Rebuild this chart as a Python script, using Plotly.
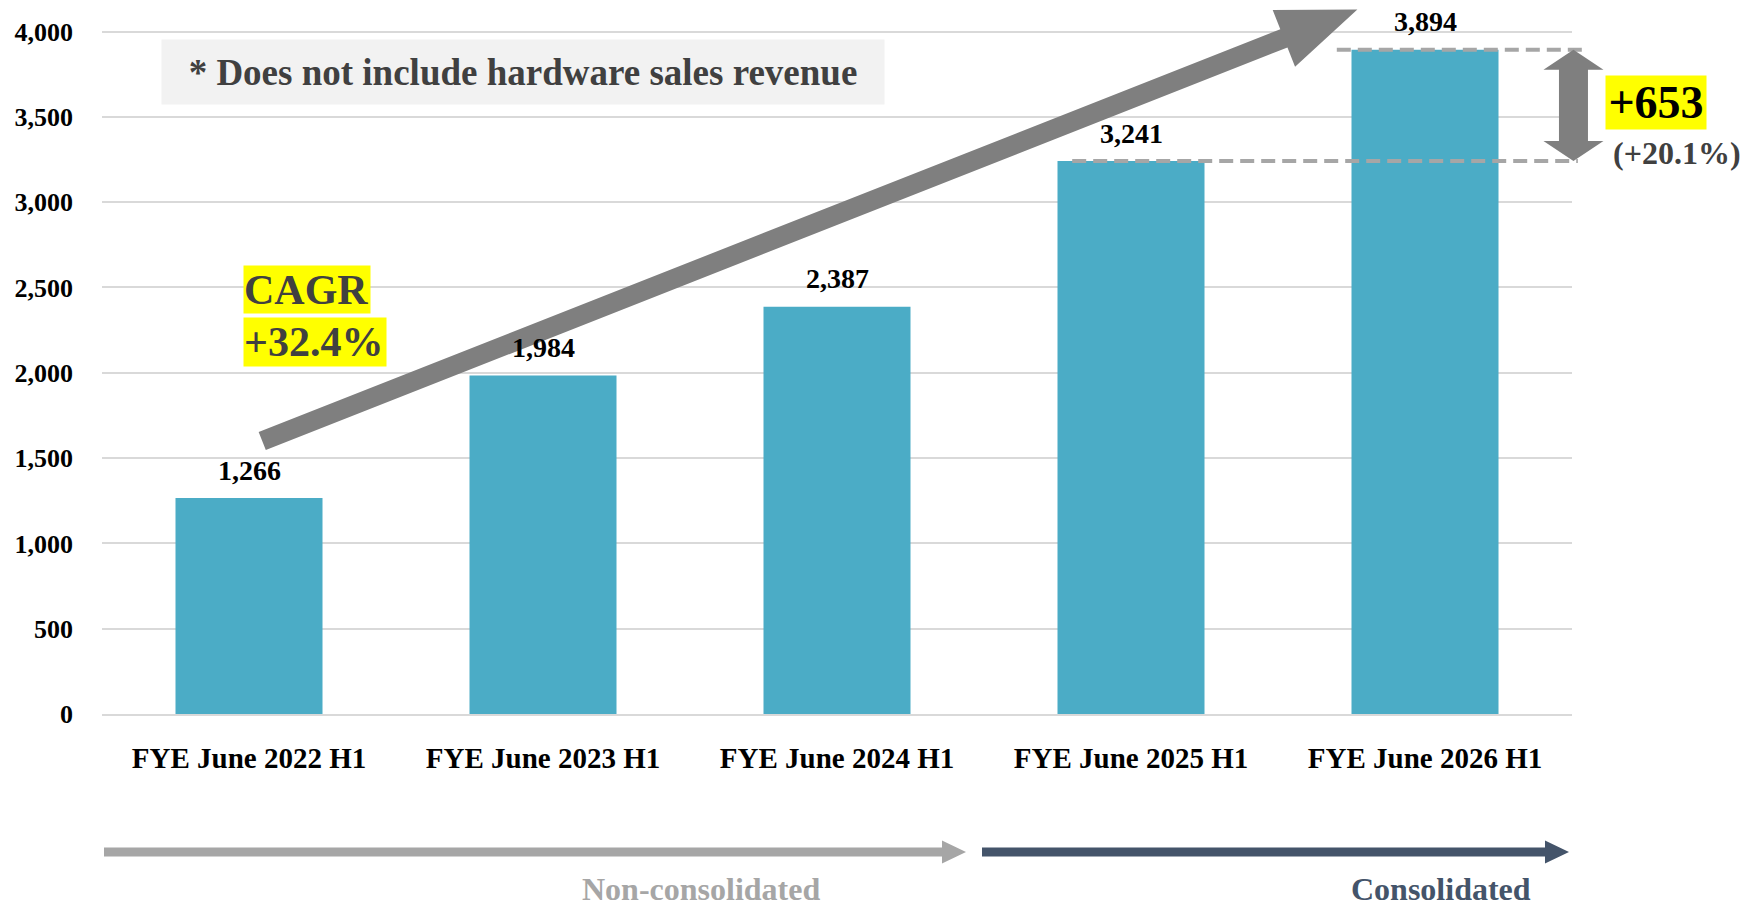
import math
import plotly.graph_objects as go

# ---------------- data ----------------
categories = ["FYE June 2022 H1", "FYE June 2023 H1", "FYE June 2024 H1",
              "FYE June 2025 H1", "FYE June 2026 H1"]
revenue = [1266, 1984, 2387, 3241, 3894]
y_ticks = [0, 500, 1000, 1500, 2000, 2500, 3000, 3500, 4000]
cagr_lines = ["CAGR", "+32.4%"]
diff_text = "+653"
diff_pct_text = "(+20.1%)"
note_text = "* Does not include hardware sales revenue"
segment_labels = ["Non-consolidated", "Consolidated"]

# ---------------- layout geometry ----------------
W, H = 1760, 906
ML, MR, MT, MB = 102, 188, 6, 192
PW = W - ML - MR
PH = H - MT - MB
Y_MAX = 4150
N = len(categories)
FONT = "Liberation Serif, Times New Roman, serif"

BAR_COLOR = "#4BACC6"
GRID = "#D9D9D9"
ARROW_GRAY = "#7F7F7F"
DASH_GRAY = "#A6A6A6"
DARK_BLUE = "#44546A"
TEXT_DARK = "#404040"


def cat_px(i):
    return ML + (i + 0.5) * PW / N


def val_py(v):
    return MT + (Y_MAX - v) * PH / Y_MAX


def pxp(X):
    return (X - ML) / PW


def pyp(Y):
    return (H - MB - Y) / PH


def path_from_px(points):
    s = "M " + " L ".join(f"{pxp(x):.5f},{pyp(y):.5f}" for x, y in points) + " Z"
    return s


def arrow_poly(x0, y0, x1, y1, shaft_half, head_len, head_half):
    dx, dy = x1 - x0, y1 - y0
    L = math.hypot(dx, dy)
    ux, uy = dx / L, dy / L
    nx, ny = -uy, ux
    bx, by = x1 - ux * head_len, y1 - uy * head_len
    return [
        (x0 + nx * shaft_half, y0 + ny * shaft_half),
        (bx + nx * shaft_half, by + ny * shaft_half),
        (bx + nx * head_half, by + ny * head_half),
        (x1, y1),
        (bx - nx * head_half, by - ny * head_half),
        (bx - nx * shaft_half, by - ny * shaft_half),
        (x0 - nx * shaft_half, y0 - ny * shaft_half),
    ]


def double_arrow_poly(x, ytop, ybot, shaft_half, head_len, head_half):
    return [
        (x, ytop),
        (x + head_half, ytop + head_len),
        (x + shaft_half, ytop + head_len),
        (x + shaft_half, ybot - head_len),
        (x + head_half, ybot - head_len),
        (x, ybot),
        (x - head_half, ybot - head_len),
        (x - shaft_half, ybot - head_len),
        (x - shaft_half, ytop + head_len),
        (x - head_half, ytop + head_len),
    ]


fig = go.Figure()
fig.add_trace(go.Bar(
    x=categories, y=revenue, marker=dict(color=BAR_COLOR, line=dict(width=0)),
    hoverinfo="skip", showlegend=False,
))

annotations = []
# value labels
for c, v in zip(categories, revenue):
    annotations.append(dict(
        x=c, y=v, xref="x", yref="y", text=f"{v:,}", showarrow=False,
        yanchor="middle", yshift=28,
        font=dict(family=FONT, size=28, color="#000000", weight="bold"),
    ))

# note box
annotations.append(dict(
    x=pxp(523), y=pyp(72), xref="paper", yref="paper", text=note_text,
    showarrow=False, xanchor="center", yanchor="middle",
    width=722, height=64, borderpad=0, bgcolor="#F2F2F2",
    font=dict(family=FONT, size=37, color=TEXT_DARK, weight="bold"),
))

# CAGR highlight
for txt, yc, w, h in [(cagr_lines[0], 289.5, 126, 47), (cagr_lines[1], 342, 142, 48)]:
    annotations.append(dict(
        x=pxp(243), y=pyp(yc), xref="paper", yref="paper", text=txt,
        showarrow=False, xanchor="left", yanchor="middle", align="left",
        width=w, height=h, borderpad=0, bgcolor="#FFFF00",
        font=dict(family=FONT, size=42, color=TEXT_DARK, weight="bold"),
    ))

# +653 / (+20.1%)
annotations.append(dict(
    x=pxp(1656), y=pyp(102.5), xref="paper", yref="paper", text=diff_text,
    showarrow=False, xanchor="center", yanchor="middle",
    width=100, height=53, borderpad=0, bgcolor="#FFFF00",
    font=dict(family=FONT, size=46, color="#000000", weight="bold"),
))
annotations.append(dict(
    x=pxp(1677), y=pyp(153), xref="paper", yref="paper", text=diff_pct_text,
    showarrow=False, xanchor="center", yanchor="middle",
    font=dict(family=FONT, size=32, color=TEXT_DARK, weight="bold"),
))

# segment labels
annotations.append(dict(
    x=pxp(701), y=pyp(889), xref="paper", yref="paper", text=segment_labels[0],
    showarrow=False, xanchor="center", yanchor="middle",
    font=dict(family=FONT, size=32, color=DASH_GRAY, weight="bold"),
))
annotations.append(dict(
    x=pxp(1441), y=pyp(889), xref="paper", yref="paper", text=segment_labels[1],
    showarrow=False, xanchor="center", yanchor="middle",
    font=dict(family=FONT, size=32, color=DARK_BLUE, weight="bold"),
))

shapes = []
# dashed reference lines at the last two bars' values
v_prev, v_last = revenue[-2], revenue[-1]
for v, xs, xe in [(v_prev, 2.80, 4.52), (v_last, 3.70, 4.545)]:
    shapes.append(dict(
        type="line", xref="paper", yref="y",
        x0=(xs + 0.5) / N, x1=(xe + 0.5) / N, y0=v, y1=v,
        line=dict(color=DASH_GRAY, width=4, dash="14px,7px"), layer="above",
    ))

# double arrow between the two values
dbl = double_arrow_poly(cat_px(4.505), val_py(v_last), val_py(v_prev), 14.5, 20, 30)
shapes.append(dict(type="path", xref="paper", yref="paper", path=path_from_px(dbl),
                   fillcolor=ARROW_GRAY, line=dict(width=0), layer="above"))

# big growth arrow
tail = (cat_px(0.045), val_py(1600))
tip = (cat_px(3.77), val_py(4130))
big = arrow_poly(tail[0], tail[1], tip[0], tip[1], 9.75, 79, 30.5)
shapes.append(dict(type="path", xref="paper", yref="paper", path=path_from_px(big),
                   fillcolor=ARROW_GRAY, line=dict(width=0), layer="above"))

# bottom segment arrows
for x0, x1, col in [(104, 966, DASH_GRAY), (982, 1569, DARK_BLUE)]:
    poly = arrow_poly(x0, 852, x1, 852, 4.5, 24, 11.5)
    shapes.append(dict(type="path", xref="paper", yref="paper", path=path_from_px(poly),
                       fillcolor=col, line=dict(width=0), layer="above"))

fig.update_layout(
    width=W, height=H,
    margin=dict(l=ML, r=MR, t=MT, b=MB, pad=0),
    paper_bgcolor="#FFFFFF", plot_bgcolor="#FFFFFF",
    bargap=0.5, showlegend=False,
    annotations=annotations, shapes=shapes,
    xaxis=dict(
        type="category", range=[-0.5, N - 0.5], showgrid=False,
        showline=True, linecolor=GRID, linewidth=2, ticks="",
        tickfont=dict(family=FONT, size=29, color="#000000", weight="bold"),
        ticklabelstandoff=17, fixedrange=True,
    ),
    yaxis=dict(
        range=[0, Y_MAX], tickvals=y_ticks, ticktext=[f"{t:,}" for t in y_ticks],
        showgrid=True, gridcolor=GRID, gridwidth=2, zeroline=False,
        showline=False, ticks="",
        tickfont=dict(family=FONT, size=26, color="#000000", weight="bold"),
        ticklabelstandoff=28, fixedrange=True,
    ),
)

fig.write_html(
    "out.html",
    post_script="document.body.style.margin='0px';document.body.style.overflow='hidden';",
    config={"displayModeBar": False},
)
